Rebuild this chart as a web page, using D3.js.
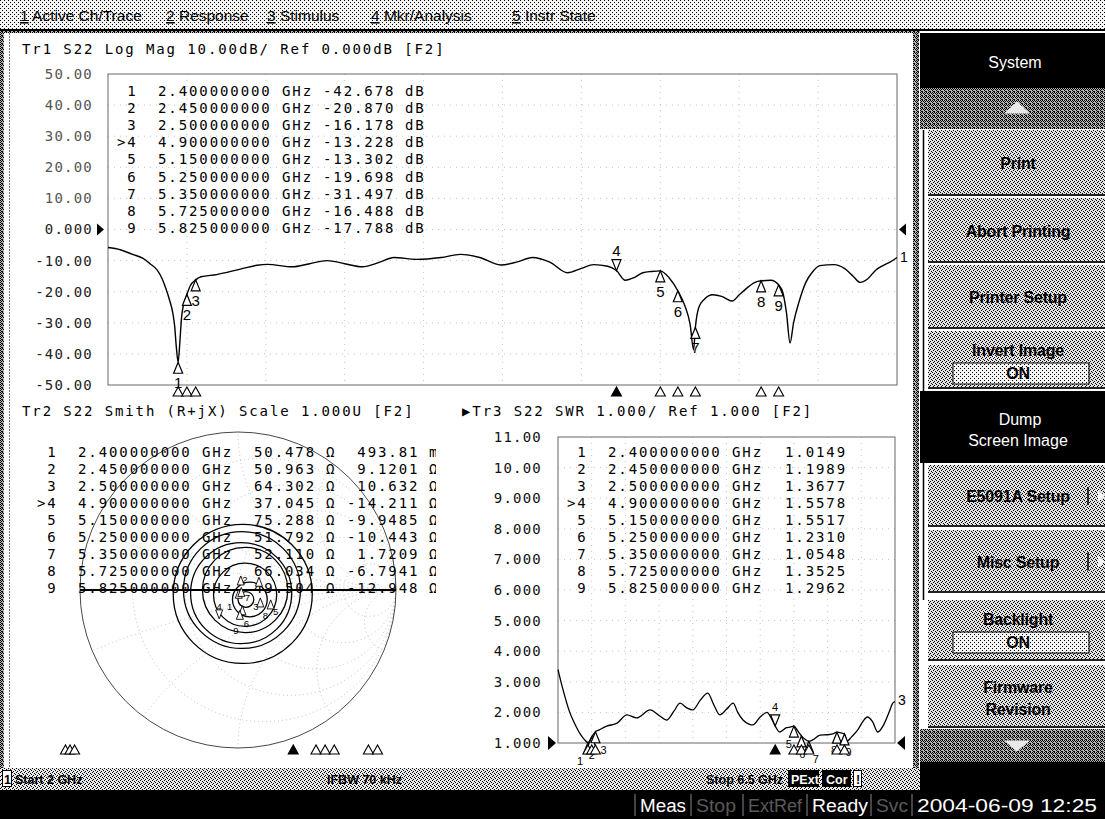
<!DOCTYPE html>
<html><head><meta charset="utf-8"><title>E5071 S22 screen</title>
<script src="https://cdn.jsdelivr.net/npm/d3@7/dist/d3.min.js"></script>
<style>
html,body{margin:0;padding:0;background:#fff;overflow:hidden;}
svg{display:block;}
svg text{white-space:pre;}
</style></head><body>
<svg id="c" width="1105" height="819"></svg>
<script>
// ===================== DATA =====================
const freqStart = 2.0, freqStop = 6.5;
const logMagTicks = [50,40,30,20,10,0,-10,-20,-30,-40,-50];
const swrTicks = [11,10,9,8,7,6,5,4,3,2,1];
const markerIds = ["1","2","3",">4","5","6","7","8","9"];
const markerFreq = [2.4,2.45,2.5,4.9,5.15,5.25,5.35,5.725,5.825];
const markerDb = [-42.678,-20.870,-16.178,-13.228,-13.302,-19.698,-31.497,-16.488,-17.788];
const markerR = [50.478,50.963,64.302,37.045,75.288,51.792,52.110,66.034,49.504];
const markerX = [0.49381,9.1201,10.632,-14.211,-9.9485,-10.443,1.7209,-6.7941,-12.948];
const markerXText = ["493.81","9.1201","10.632","-14.211","-9.9485","-10.443","1.7209","-6.7941","-12.948"];
const markerXUnit = ["mΩ","Ω","Ω","Ω","Ω","Ω","Ω","Ω","Ω"];
const markerSwr = [1.0149,1.1989,1.3677,1.5578,1.5517,1.2310,1.0548,1.3525,1.2962];
const activeMarker = 3;

const logMagFreq = [2.00,2.07,2.14,2.20,2.24,2.28,2.31,2.33,2.35,2.37,2.38,2.39,2.40,2.41,2.42,2.44,2.45,2.47,2.50,2.53,2.62,2.75,2.85,2.91,3.05,3.15,3.25,3.35,3.45,3.55,3.63,3.76,3.90,4.01,4.12,4.24,4.33,4.42,4.52,4.62,4.70,4.77,4.85,4.90,4.95,5.00,5.05,5.10,5.15,5.20,5.25,5.29,5.32,5.34,5.35,5.37,5.40,5.45,5.50,5.56,5.60,5.64,5.69,5.725,5.78,5.825,5.85,5.87,5.89,5.91,5.94,5.98,6.02,6.06,6.14,6.20,6.25,6.29,6.33,6.38,6.42,6.46,6.50];
const logMagDb = [-5.8,-6.5,-8.0,-9.3,-11.0,-13.0,-16.0,-19.0,-22.5,-27.0,-31.0,-38.0,-42.7,-36.0,-28.0,-22.5,-20.9,-18.0,-16.2,-15.2,-14.5,-12.8,-11.5,-11.2,-12.0,-11.0,-10.0,-11.0,-12.0,-10.5,-9.0,-9.6,-9.0,-8.0,-9.0,-11.4,-10.5,-9.0,-10.5,-13.9,-12.5,-11.3,-11.8,-13.2,-16.3,-15.5,-13.9,-13.5,-13.3,-15.5,-19.7,-24.5,-30.5,-38.7,-31.5,-25.0,-22.5,-21.0,-21.5,-23.0,-21.0,-19.0,-17.0,-16.5,-16.3,-17.8,-20.5,-27.0,-36.5,-30.0,-23.5,-17.0,-13.5,-11.6,-11.3,-12.5,-15.0,-17.0,-16.0,-13.0,-11.6,-10.5,-9.0];

const swrFreq = [2.00,2.05,2.10,2.15,2.20,2.25,2.30,2.35,2.40,2.45,2.50,2.55,2.65,2.79,2.92,3.05,3.23,3.35,3.45,3.55,3.63,3.72,3.80,3.90,4.00,4.08,4.16,4.25,4.34,4.40,4.47,4.55,4.60,4.70,4.79,4.85,4.90,4.96,5.05,5.10,5.15,5.20,5.25,5.30,5.35,5.40,5.50,5.60,5.67,5.725,5.78,5.825,5.86,5.92,6.00,6.07,6.13,6.20,6.27,6.35,6.42,6.47,6.50];
const swrVal = [3.40,2.90,2.45,2.05,1.75,1.50,1.28,1.12,1.015,1.199,1.368,1.43,1.55,1.65,1.92,1.82,2.08,1.90,1.75,2.05,2.30,2.15,2.08,2.40,2.63,2.25,1.92,2.10,2.30,2.00,1.75,1.62,1.59,1.85,2.00,1.80,1.558,1.36,1.50,1.52,1.552,1.40,1.231,1.12,1.055,1.10,1.26,1.27,1.30,1.3525,1.33,1.296,1.06,1.20,1.42,1.70,1.85,1.70,1.36,1.60,2.00,2.30,2.35];

// Smith trace loops (reflection-coefficient plane)
const smithLoopRe  = [0.030, 0.025, 0.020, 0.045, 0.045, 0.075, 0.050];
const smithLoopIm  = [-0.025, 0.000, -0.020, 0.000, -0.030, -0.060, -0.060];
const smithLoopRad = [0.44, 0.37, 0.32, 0.27, 0.20, 0.11, 0.05];
const smithGridR = [0.2,0.5,1,2,5];
const smithGridX = [0.2,0.5,1,2,5];

const menuItems = [["1"," Active Ch/Trace"],["2"," Response"],["3"," Stimulus"],["4"," Mkr/Analysis"],["5"," Instr State"]];
const statusItems = ["Start 2 GHz", "IFBW 70 kHz", "Stop 6.5 GHz"];
const barItems = ["Meas", "Stop", "ExtRef", "Ready", "Svc", "2004-06-09 12:25"];

// ===================== HELPERS =====================
const svg = d3.select("#c");
const MONO = '"DejaVu Sans Mono","Liberation Mono",monospace';
const SANS = '"Liberation Sans","Noto Sans",Arial,sans-serif';
const fmt4 = v => d3.format(".4r")(v).replace("\u2212","-");
const fmtF = d3.format(".9f");
const fmt3 = v => d3.format(".3f")(v).replace("\u2212","-");
const fmt4f = d3.format(".4f");
const triUp = (x,y,w,h) => `M${x},${y}L${x-w/2},${y+h}L${x+w/2},${y+h}Z`;
const triDown = (x,y,w,h) => `M${x},${y}L${x-w/2},${y-h}L${x+w/2},${y-h}Z`;

const defs = svg.append("defs");
function dither(id, bg, dots, size) {
  const p = defs.append("pattern").attr("id", id).attr("width", size).attr("height", size)
    .attr("patternUnits", "userSpaceOnUse");
  p.append("rect").attr("width", size).attr("height", size).attr("fill", bg);
  dots.forEach(([x,y]) => p.append("rect").attr("x", x).attr("y", y).attr("width", 1).attr("height", 1).attr("fill", "#000"));
}
dither("dLight", "#f4f4f4", [[0,0],[2,2]], 4);
dither("dStatus", "#e8e8e8", [[0,0],[2,1],[1,3],[3,2]], 4);
dither("dBtn", "#e2e2e2", [[0,0],[2,1],[1,2],[3,3]], 4);
dither("dDark", "#b4b4b4", [[0,0],[2,0],[1,1],[3,1],[0,2],[2,3],[1,3]], 4);

function monoText(g, x, y, s, opts = {}) {
  return g.append("text").attr("x", x).attr("y", y).attr("dy", "0.36em")
    .attr("font-family", MONO).attr("font-size", opts.size || 14)
    .attr("letter-spacing", opts.ls != null ? opts.ls : 1.9)
    .attr("fill", opts.fill || "#000")
    .attr("text-anchor", opts.anchor || "start").text(s);
}

// ===================== BACKGROUND / FRAME =====================
svg.append("rect").attr("width", 1105).attr("height", 819).attr("fill", "#fff");
svg.append("rect").attr("x", 0).attr("y", 0).attr("width", 1105).attr("height", 29).attr("fill", "url(#dLight)");
svg.append("rect").attr("x", 0).attr("y", 29).attr("width", 1105).attr("height", 2).attr("fill", "#000");
svg.append("rect").attr("x", 0).attr("y", 31).attr("width", 920).attr("height", 2).attr("fill", "url(#dDark)");
const menuX = [20, 166, 267, 371, 512];
menuItems.forEach((m, i) => {
  const t = svg.append("text").attr("x", menuX[i]).attr("y", 21)
    .attr("font-family", SANS).attr("font-size", 15.5).attr("fill", "#000");
  t.append("tspan").attr("text-decoration", "underline").text(m[0]);
  t.append("tspan").text(m[1]);
});
svg.append("rect").attr("x", 0).attr("y", 33).attr("width", 4).attr("height", 737).attr("fill", "url(#dDark)");
svg.append("line").attr("x1", 9.5).attr("x2", 9.5).attr("y1", 33).attr("y2", 768).attr("stroke", "#777").attr("stroke-dasharray", "2,1");
svg.append("rect").attr("x", 913).attr("y", 33).attr("width", 6).attr("height", 737).attr("fill", "url(#dDark)");

// ===================== TRACE 1 : LOG MAG =====================
const x1 = d3.scaleLinear().domain([freqStart, freqStop]).range([108, 897]);
const y1 = d3.scaleLinear().domain([d3.min(logMagTicks), d3.max(logMagTicks)]).range([385, 74]);
const g1 = svg.append("g");
monoText(g1, 22, 49, "Tr1 S22 Log Mag 10.00dB/ Ref 0.000dB [F2]");
const fDiv = d3.range(1, 10).map(i => freqStart + i * (freqStop - freqStart) / 10);
g1.selectAll(".vg").data(fDiv).join("line").attr("x1", d => x1(d)).attr("x2", d => x1(d))
  .attr("y1", y1.range()[1]).attr("y2", y1.range()[0]).attr("stroke", "#c4c4c4").attr("stroke-dasharray", "1,5");
g1.selectAll(".hg").data(logMagTicks.slice(1, -1)).join("line").attr("x1", x1.range()[0]).attr("x2", x1.range()[1])
  .attr("y1", d => y1(d)).attr("y2", d => y1(d)).attr("stroke", "#c4c4c4").attr("stroke-dasharray", "1,5");
g1.append("rect").attr("x", x1.range()[0]).attr("y", y1.range()[1]).attr("width", x1.range()[1] - x1.range()[0])
  .attr("height", y1.range()[0] - y1.range()[1]).attr("fill", "none").attr("stroke", "#666").attr("stroke-width", 1);
const ax1 = g1.append("g").attr("transform", `translate(${x1.range()[0]},0)`)
  .call(d3.axisLeft(y1).tickValues(logMagTicks).tickFormat(fmt4).tickSize(0).tickPadding(15));
ax1.select(".domain").remove();
ax1.selectAll("text").attr("font-family", MONO).attr("font-size", 14).attr("letter-spacing", 1.2)
  .attr("fill", d => d > 0 ? "#555" : "#222");
g1.append("path").attr("d", `M${x1.range()[0]-11},${y1(0)-6}L${x1.range()[0]-4},${y1(0)}L${x1.range()[0]-11},${y1(0)+6}Z`).attr("fill", "#000");
g1.append("path").attr("d", `M${x1.range()[1]+9},${y1(0)-6}L${x1.range()[1]+2},${y1(0)}L${x1.range()[1]+9},${y1(0)+6}Z`).attr("fill", "#000");
markerIds.forEach((id, i) => {
  const yy = 91 + i * 17.1;
  monoText(g1, 117, yy, id.padStart(2));
  monoText(g1, 158, yy, fmtF(markerFreq[i]));
  monoText(g1, 282, yy, "GHz");
  monoText(g1, 323, yy, fmt3(markerDb[i]).padStart(7));
  monoText(g1, 405, yy, "dB");
});
const line1 = d3.line().x(d => x1(d[0])).y(d => y1(d[1])).curve(d3.curveMonotoneX);
g1.append("path").datum(d3.zip(logMagFreq, logMagDb)).attr("d", line1)
  .attr("fill", "none").attr("stroke", "#000").attr("stroke-width", 1.4);
g1.append("text").attr("x", x1.range()[1] + 3).attr("y", y1(logMagDb[logMagDb.length - 1]) + 5)
  .attr("font-family", SANS).attr("font-size", 14).text("1");
function drawMarkers(g, xs, ys, vals, labelSize, lblDx) {
  markerFreq.forEach((f, i) => {
    const px = xs(f), py = ys(vals[i]);
    const lbl = markerIds[i].replace(">", "");
    const dx = lblDx ? lblDx[i] : 0;
    if (i === activeMarker) {
      g.append("path").attr("d", triDown(px, py, 9, 11)).attr("fill", "#fff").attr("stroke", "#000").attr("stroke-width", 1.2);
      g.append("text").attr("x", px + dx).attr("y", py - 15).attr("text-anchor", "middle")
        .attr("font-family", SANS).attr("font-size", labelSize).text(lbl);
    } else {
      g.append("path").attr("d", triUp(px, py, 9, 11)).attr("fill", "#fff").attr("stroke", "#000").attr("stroke-width", 1.2);
      g.append("text").attr("x", px + dx).attr("y", py + 11 + labelSize).attr("text-anchor", "middle")
        .attr("font-family", SANS).attr("font-size", labelSize).text(lbl);
    }
  });
}
drawMarkers(g1, x1, y1, markerDb, 15);
function drawIndicators(g, xs, y) {
  markerFreq.forEach((f, i) => {
    g.append("path").attr("d", triUp(xs(f), y, 10, 9))
      .attr("fill", i === activeMarker ? "#000" : "#fff").attr("stroke", "#000").attr("stroke-width", 1.1);
  });
}
drawIndicators(g1, x1, 387);

// ===================== TRACE 2 : SMITH =====================
const g2 = svg.append("g");
monoText(g2, 22, 411, "Tr2 S22 Smith (R+jX) Scale 1.000U [F2]");
const sCx = 238, sCy = 590, sR = 158;
const gx = d3.scaleLinear().domain([-1, 1]).range([sCx - sR, sCx + sR]);
const gy = d3.scaleLinear().domain([-1, 1]).range([sCy + sR, sCy - sR]);
const gr = d3.scaleLinear().domain([0, 1]).range([0, sR]);
defs.append("clipPath").attr("id", "smithClip").append("circle").attr("cx", gx(0)).attr("cy", gy(0)).attr("r", gr(1));
const sg = g2.append("g").attr("clip-path", "url(#smithClip)");
sg.selectAll(".rc").data(smithGridR).join("circle")
  .attr("cx", r => gx(r / (1 + r))).attr("cy", gy(0)).attr("r", r => gr(1 / (1 + r)))
  .attr("fill", "none").attr("stroke", "#bdbdbd").attr("stroke-dasharray", "1,3");
const xArcs = smithGridX.flatMap(x => [x, -x]);
sg.selectAll(".xc").data(xArcs).join("circle")
  .attr("cx", gx(1)).attr("cy", x => gy(1 / x)).attr("r", x => gr(1 / Math.abs(x)))
  .attr("fill", "none").attr("stroke", "#bdbdbd").attr("stroke-dasharray", "1,3");
g2.append("circle").attr("cx", gx(0)).attr("cy", gy(0)).attr("r", gr(1))
  .attr("fill", "none").attr("stroke", "#333").attr("stroke-width", 0.9);
defs.append("clipPath").attr("id", "tblClip").append("rect").attr("x", 20).attr("y", 430).attr("width", 416).attr("height", 170);
const tg = g2.append("g").attr("clip-path", "url(#tblClip)");
markerIds.forEach((id, i) => {
  const yy = 452 + i * 17;
  monoText(tg, 37, yy, id.padStart(2));
  monoText(tg, 78, yy, fmtF(markerFreq[i]));
  monoText(tg, 202, yy, "GHz");
  monoText(tg, 254, yy, fmt3(markerR[i]).padStart(6));
  monoText(tg, 326, yy, "Ω");
  monoText(tg, 347, yy, markerXText[i].padStart(7));
  monoText(tg, 429, yy, markerXUnit[i]);
});
g2.append("line").attr("x1", gx(-1)).attr("x2", gx(1)).attr("y1", gy(0)).attr("y2", gy(0))
  .attr("stroke", "#000").attr("stroke-width", 2);
g2.selectAll(".loop").data(d3.range(smithLoopRe.length)).join("circle")
  .attr("cx", i => gx(smithLoopRe[i])).attr("cy", i => gy(smithLoopIm[i])).attr("r", i => gr(smithLoopRad[i]))
  .attr("fill", "none").attr("stroke", "#000").attr("stroke-width", 1.3);
const gamma = markerR.map((R, i) => {
  const X = markerX[i], a = R - 50, c = R + 50, den = c * c + X * X;
  return [(a * c + X * X) / den, (X * c - a * X) / den];
});
const smithLblDx = [-9, 4, -3, 0, 5, 4, 6, 5, -4];
const smithLblDy = [17, 4, 29, -12, 12, 18, 10, 18, 20];
gamma.forEach(([re, im], i) => {
  const px = gx(re), py = gy(im);
  const lbl = markerIds[i].replace(">", "");
  g2.append("path").attr("d", i === activeMarker ? triDown(px, py, 7, 9) : triUp(px, py, 7, 9))
    .attr("fill", "#fff").attr("stroke", "#000").attr("stroke-width", 0.9);
  g2.append("text").attr("x", px + smithLblDx[i]).attr("y", py + smithLblDy[i]).attr("dy", "0.35em")
    .attr("text-anchor", "middle").attr("font-family", SANS).attr("font-size", 9.5).text(lbl);
});
const xs2 = d3.scaleLinear().domain([freqStart, freqStop]).range([29, 439]);
drawIndicators(g2, xs2, 745);

// ===================== TRACE 3 : SWR =====================
const g3 = svg.append("g");
monoText(g3, 462, 411, "▶Tr3 S22 SWR 1.000/ Ref 1.000 [F2]");
const x3 = d3.scaleLinear().domain([freqStart, freqStop]).range([558, 895]);
const y3 = d3.scaleLinear().domain([d3.min(swrTicks), d3.max(swrTicks)]).range([743, 437]);
const fDiv3 = d3.range(1, 10).map(i => freqStart + i * (freqStop - freqStart) / 10);
g3.selectAll(".vg").data(fDiv3).join("line").attr("x1", d => x3(d)).attr("x2", d => x3(d))
  .attr("y1", y3.range()[1]).attr("y2", y3.range()[0]).attr("stroke", "#c4c4c4").attr("stroke-dasharray", "1,5");
g3.selectAll(".hg").data(swrTicks.slice(1, -1)).join("line").attr("x1", x3.range()[0]).attr("x2", x3.range()[1])
  .attr("y1", d => y3(d)).attr("y2", d => y3(d)).attr("stroke", "#c4c4c4").attr("stroke-dasharray", "1,5");
g3.append("rect").attr("x", x3.range()[0]).attr("y", y3.range()[1]).attr("width", x3.range()[1] - x3.range()[0])
  .attr("height", y3.range()[0] - y3.range()[1]).attr("fill", "none").attr("stroke", "#666").attr("stroke-width", 1);
const ax3 = g3.append("g").attr("transform", `translate(${x3.range()[0]},0)`)
  .call(d3.axisLeft(y3).tickValues(swrTicks).tickFormat(fmt4).tickSize(0).tickPadding(16));
ax3.select(".domain").remove();
ax3.selectAll("text").attr("font-family", MONO).attr("font-size", 14).attr("letter-spacing", 1.2).attr("fill", "#111");
g3.append("path").attr("d", `M${x3.range()[0]-10},${y3(1)-7}L${x3.range()[0]-2},${y3(1)}L${x3.range()[0]-10},${y3(1)+7}Z`).attr("fill", "#000");
g3.append("path").attr("d", `M${x3.range()[1]+10},${y3(1)-7}L${x3.range()[1]+2},${y3(1)}L${x3.range()[1]+10},${y3(1)+7}Z`).attr("fill", "#000");
markerIds.forEach((id, i) => {
  const yy = 452 + i * 17;
  monoText(g3, 567, yy, id.padStart(2));
  monoText(g3, 608, yy, fmtF(markerFreq[i]));
  monoText(g3, 732, yy, "GHz");
  monoText(g3, 785, yy, fmt4f(markerSwr[i]));
});
const line3 = d3.line().x(d => x3(d[0])).y(d => y3(d[1])).curve(d3.curveMonotoneX);
g3.append("path").datum(d3.zip(swrFreq, swrVal)).attr("d", line3)
  .attr("fill", "none").attr("stroke", "#000").attr("stroke-width", 1.3);
g3.append("text").attr("x", x3.range()[1] + 3).attr("y", y3(swrVal[swrVal.length - 1]) + 3)
  .attr("font-family", SANS).attr("font-size", 14).text("3");
drawMarkers(g3, x3, y3, markerSwr, 11, [-8, 0, 8, 0, -5, 1, 7, -3, 4]);
drawIndicators(g3, x3, 745);

// ===================== SOFTKEY PANEL =====================
const sk = svg.append("g");
sk.append("rect").attr("x", 920).attr("y", 33).attr("width", 185).attr("height", 55).attr("fill", "#000");
sk.append("text").attr("x", 1015).attr("y", 68).attr("text-anchor", "middle").attr("font-family", SANS)
  .attr("font-size", 16).attr("fill", "#fff").text("System");
function scrollBand(y0, y1, up) {
  sk.append("rect").attr("x", 920).attr("y", y0).attr("width", 185).attr("height", y1 - y0).attr("fill", "url(#dDark)");
  const cy = (y0 + y1) / 2;
  sk.append("path").attr("d", up ? `M1017,${cy-7}L1030,${cy+5}L1004,${cy+5}Z` : `M1017,${cy+6}L1030,${cy-5}L1004,${cy-5}Z`)
    .attr("fill", "#e8e8e8");
}
scrollBand(88, 129, true);
sk.append("line").attr("x1", 923.5).attr("x2", 923.5).attr("y1", 130).attr("y2", 600).attr("stroke", "#000").attr("stroke-width", 1.5);
const buttons = [
  {t:["Print"], y0:130, y1:196},
  {t:["Abort Printing"], y0:198, y1:263},
  {t:["Printer Setup"], y0:265, y1:329},
  {t:["Invert Image"], y0:331, y1:389, box:"ON"},
  {t:["E5091A Setup"], y0:465, y1:527, arrow:true},
  {t:["Misc Setup"], y0:530, y1:593, arrow:true},
  {t:["Backlight"], y0:600, y1:661, box:"ON"},
  {t:["Firmware","Revision"], y0:665, y1:728}
];
const bTxt = (x, y, s) => sk.append("text").attr("x", x).attr("y", y).attr("text-anchor", "middle").attr("font-family", SANS)
  .attr("font-weight", "bold").attr("font-size", 16).attr("letter-spacing", -0.2).text(s);
buttons.forEach(b => {
  sk.append("rect").attr("x", 928).attr("y", b.y0).attr("width", 177).attr("height", b.y1 - b.y0).attr("fill", "url(#dBtn)");
  sk.append("rect").attr("x", 928).attr("y", b.y1 - 2).attr("width", 177).attr("height", 2).attr("fill", "#222");
  const cy = (b.y0 + b.y1) / 2;
  if (b.box) {
    bTxt(1018, b.y0 + 25, b.t[0]);
    sk.append("rect").attr("x", 953).attr("y", b.y0 + 32).attr("width", 136).attr("height", 21).attr("fill", "url(#dLight)")
      .attr("stroke", "#000").attr("stroke-width", 1);
    bTxt(1018, b.y0 + 48, b.box);
  } else if (b.t.length === 2) {
    bTxt(1018, cy - 4, b.t[0]);
    bTxt(1018, cy + 18, b.t[1]);
  } else {
    bTxt(1018, cy + 6, b.t[0]);
  }
  if (b.arrow) {
    sk.append("line").attr("x1", 1088).attr("x2", 1088).attr("y1", cy - 9).attr("y2", cy + 9).attr("stroke", "#000").attr("stroke-width", 1.5);
    sk.append("path").attr("d", `M1098,${cy-6}L1105,${cy}L1098,${cy+6}Z`).attr("fill", "#f4f4f4");
  }
});
sk.append("rect").attr("x", 920).attr("y", 391).attr("width", 185).attr("height", 72).attr("fill", "#000");
sk.append("text").attr("x", 1020).attr("y", 425).attr("text-anchor", "middle").attr("font-family", SANS)
  .attr("font-size", 16).attr("fill", "#fff").text("Dump");
sk.append("text").attr("x", 1018).attr("y", 446).attr("text-anchor", "middle").attr("font-family", SANS)
  .attr("font-size", 16).attr("fill", "#fff").text("Screen Image");
scrollBand(729, 762, false);
sk.append("rect").attr("x", 920).attr("y", 762).attr("width", 185).attr("height", 57).attr("fill", "#000");

// ===================== STATUS ROWS =====================
const st = svg.append("g");
st.append("rect").attr("x", 0).attr("y", 768).attr("width", 920).attr("height", 22).attr("fill", "url(#dStatus)");
st.append("rect").attr("x", 2.5).attr("y", 770.5).attr("width", 9).attr("height", 16).attr("fill", "#fff").attr("stroke", "#000");
const stTxt = (x, s, o = {}) => st.append("text").attr("x", x).attr("y", 784).attr("font-family", SANS)
  .attr("font-weight", "bold").attr("font-size", 12.5).attr("fill", o.fill || "#000").text(s);
stTxt(4, "1");
stTxt(15, statusItems[0]);
stTxt(327, statusItems[1]);
stTxt(706, statusItems[2]);
st.append("rect").attr("x", 788).attr("y", 770).attr("width", 31).attr("height", 17).attr("fill", "#000");
stTxt(791, "PExt", {fill: "#fff"});
st.append("rect").attr("x", 822).attr("y", 770).attr("width", 29).attr("height", 17).attr("fill", "#000");
stTxt(826, "Cor", {fill: "#fff"});
st.append("rect").attr("x", 853.5).attr("y", 770.5).attr("width", 8).attr("height", 16).attr("fill", "#fff").attr("stroke", "#000");
stTxt(856, "!");
st.append("rect").attr("x", 0).attr("y", 790).attr("width", 1105).attr("height", 29).attr("fill", "#000");
const barX = [640, 696, 748, 812, 876, 917];
const barW = [46, 40, 54, 56, 32, 180];
const barC = ["#fff", "#5a5a5a", "#5a5a5a", "#fff", "#5a5a5a", "#fff"];
barItems.forEach((s, i) => {
  st.append("text").attr("x", barX[i]).attr("y", 812).attr("font-family", SANS).attr("font-size", 18)
    .attr("textLength", barW[i]).attr("lengthAdjust", "spacingAndGlyphs").attr("fill", barC[i]).text(s);
  st.append("line").attr("x1", barX[i] - 5).attr("x2", barX[i] - 5).attr("y1", 794).attr("y2", 816).attr("stroke", "#888");
});
</script></body></html>
